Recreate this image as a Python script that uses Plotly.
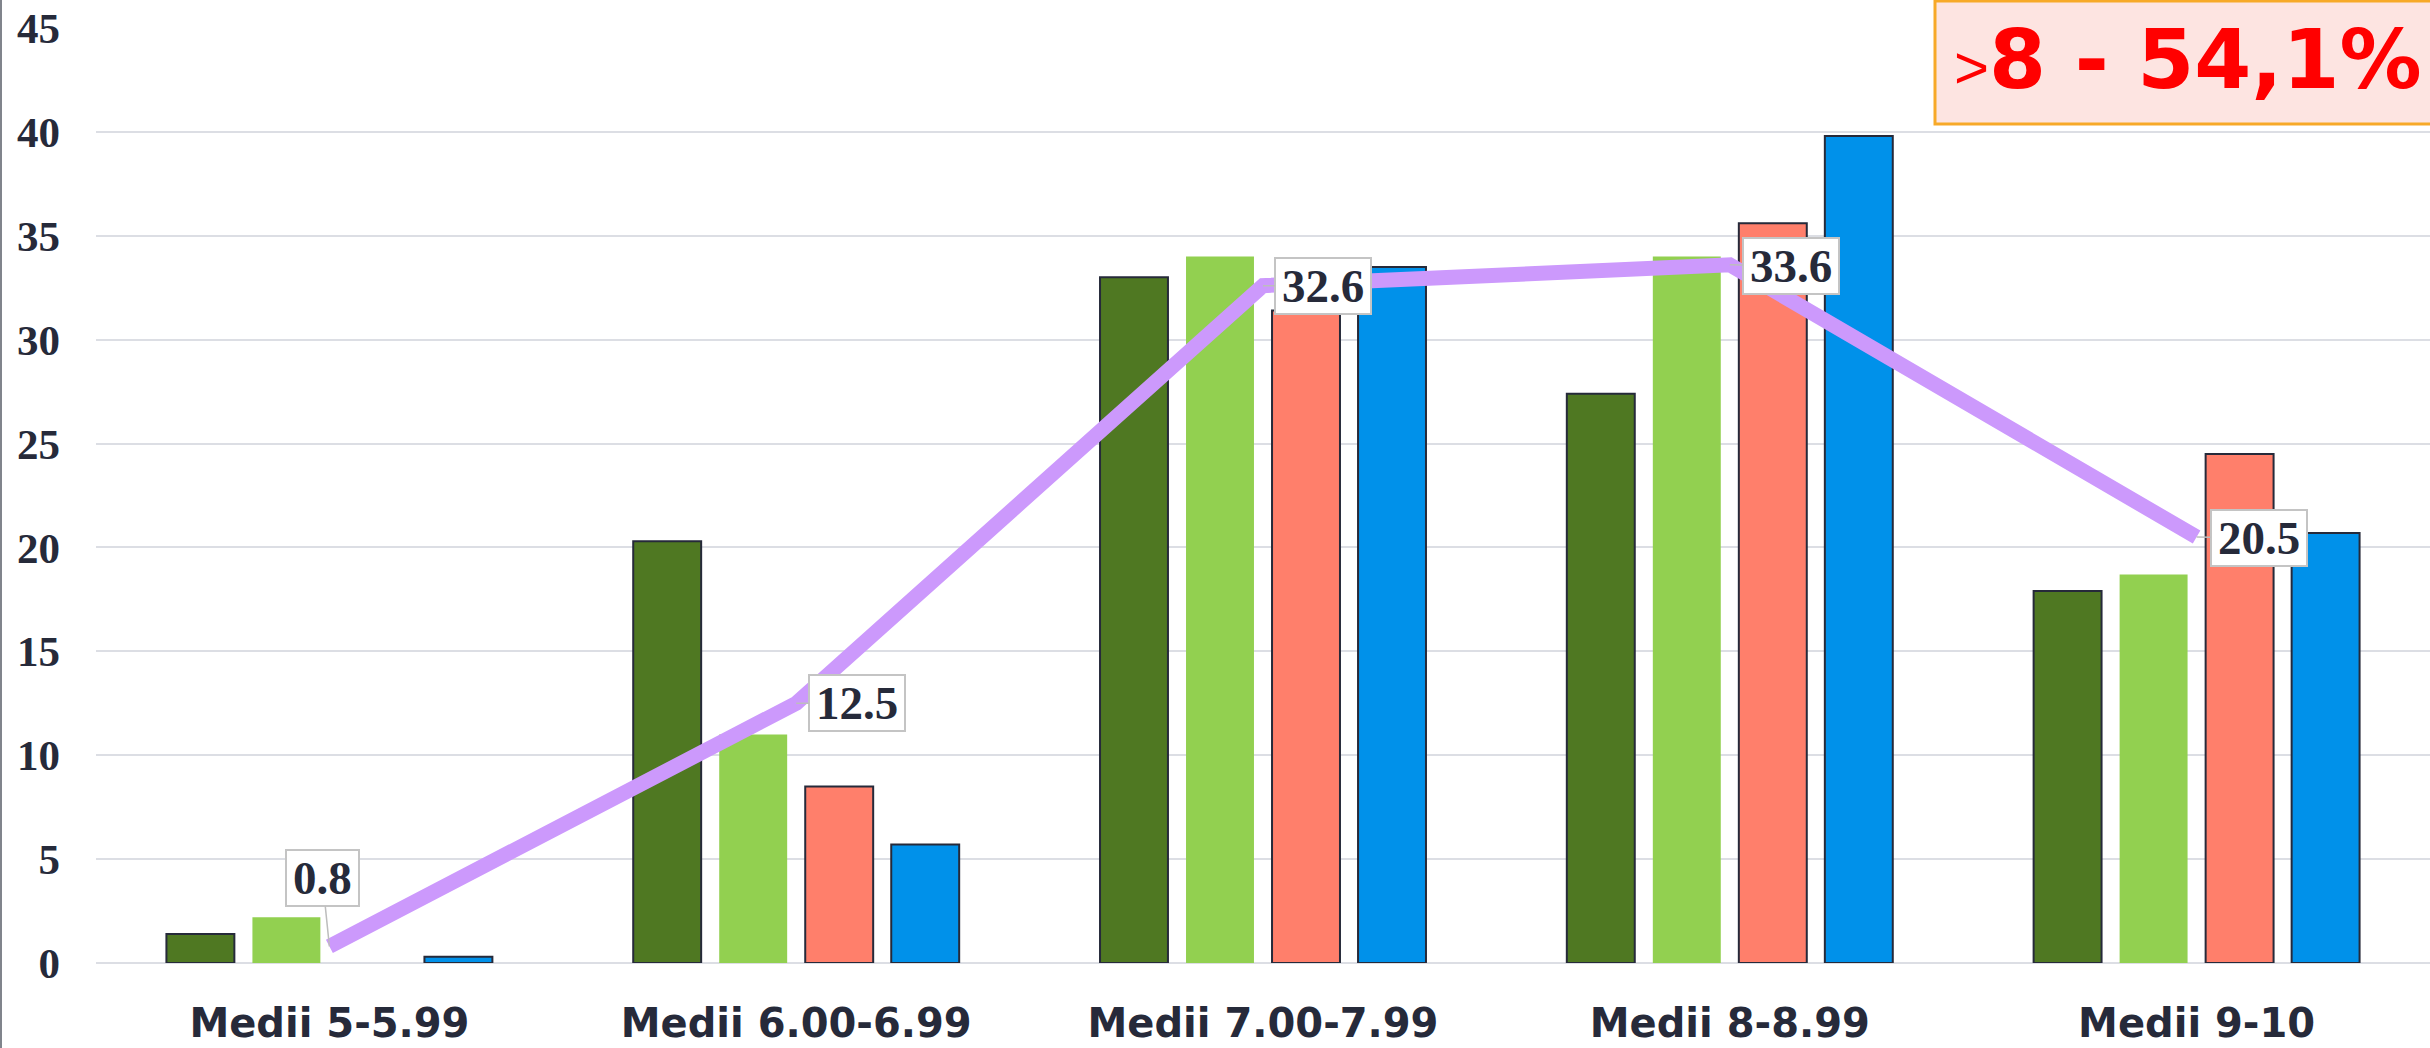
"""
Medii - distribuție pe intervale (bare grupate + linie)
"""
import plotly.graph_objects as go

# ════════════════════════════════════════════════════════
# date
# ════════════════════════════════════════════════════════
categories = ["Medii 5-5.99", "Medii 6.00-6.99", "Medii 7.00-7.99", "Medii 8-8.99", "Medii 9-10"]

series_names = ["Seria 1", "Seria 2", "Seria 3", "Seria 4"]
series_values = [
    [1.4, 20.3, 33.0, 27.4, 17.9],
    [2.2, 11.0, 34.0, 34.0, 18.7],
    [None, 8.5, 31.4, 35.6, 24.5],
    [0.3, 5.7, 33.5, 39.8, 20.7],
]
series_colors = ["#4f7822", "#92d050", "#ff7f6b", "#0091ea"]
series_outline = [2, 0, 2, 2]

line_name = "Total"
line_values = [0.8, 12.5, 32.6, 33.6, 20.5]
# poziția etichetei față de punct (pixeli)
label_offsets = [(-7, -68), (61, 0), (60, 0), (61, 1), (62, 1)]

y_ticks = [0, 5, 10, 15, 20, 25, 30, 35, 40, 45]

highlight_text = "<span style='font-family:Liberation Sans;font-weight:400;font-size:60px'>&gt;</span>8 - 54,1%"

W, H = 2430, 1048
M_L, M_R, M_T, M_B = 96, 0, 28, 85
DARK = "#262a3a"
HEAVY = "DejaVu Sans"

fig = go.Figure()

# ════════════════════════════════════════════════════════
# bare
# ════════════════════════════════════════════════════════
for name, vals, col, lw in zip(series_names, series_values, series_colors, series_outline):
    fig.add_trace(
        go.Bar(
            x=categories,
            y=vals,
            name=name,
            marker=dict(color=col, line=dict(color=DARK if lw else col, width=lw)),
        )
    )

# ════════════════════════════════════════════════════════
# linia + etichete
# ════════════════════════════════════════════════════════
fig.add_trace(
    go.Scatter(
        x=categories,
        y=line_values,
        name=line_name,
        mode="lines",
        line=dict(color="#cc99fc", width=15),
    )
)

for cat, val, (ax, ay) in zip(categories, line_values, label_offsets):
    fig.add_annotation(
        x=cat,
        y=val,
        xref="x",
        yref="y",
        text=f"{val:.1f}",
        showarrow=True,
        arrowhead=0,
        arrowwidth=1.5,
        arrowcolor="#bdbdbd",
        ax=ax,
        ay=ay,
        font=dict(family="Liberation Serif", size=47, color=DARK, weight="bold"),
        height=42,
        bgcolor="white",
        bordercolor="#c4c4c4",
        borderwidth=2,
        borderpad=6,
    )

# ════════════════════════════════════════════════════════
# caseta din dreapta sus
# ════════════════════════════════════════════════════════
plot_w = W - M_L - M_R
plot_h = H - M_T - M_B


def px_x(px):
    return (px - M_L) / plot_w


def px_y(py):
    return 1 - (py - M_T) / plot_h


fig.add_shape(
    type="rect",
    xref="paper",
    yref="paper",
    x0=px_x(1935),
    x1=px_x(2460),
    y0=px_y(124),
    y1=px_y(1),
    fillcolor="#fde4e1",
    line=dict(color="#f7a928", width=3),
    layer="above",
)
fig.add_annotation(
    xref="paper",
    yref="paper",
    x=px_x(1952),
    y=px_y(60),
    xanchor="left",
    yanchor="middle",
    text=highlight_text,
    showarrow=False,
    font=dict(family=HEAVY, size=82, color="#ff0000", weight="bold"),
)

# linia gri din marginea stângă
fig.add_shape(
    type="line",
    xref="paper",
    yref="paper",
    x0=px_x(1),
    x1=px_x(1),
    y0=px_y(H),
    y1=px_y(0),
    line=dict(color="#80848c", width=2),
)

# ════════════════════════════════════════════════════════
# layout
# ════════════════════════════════════════════════════════
fig.update_layout(
    width=W,
    height=H,
    margin=dict(l=M_L, r=M_R, t=M_T, b=M_B, autoexpand=False),
    paper_bgcolor="white",
    plot_bgcolor="white",
    barmode="group",
    bargap=0.263,
    bargroupgap=0.21,
    showlegend=False,
    hovermode=False,
)
fig.update_xaxes(
    automargin=False,
    showgrid=False,
    showline=False,
    ticks="",
    tickfont=dict(family=HEAVY, size=40, color=DARK, weight="bold"),
    ticklabelstandoff=33,
)
fig.update_yaxes(
    automargin=False,
    range=[0, 45],
    tickvals=y_ticks,
    showgrid=True,
    gridcolor="#dcdee4",
    gridwidth=2,
    zeroline=True,
    zerolinecolor="#dcdee4",
    zerolinewidth=2,
    showline=False,
    ticks="",
    tickfont=dict(family="Liberation Serif", size=43, color=DARK, weight="bold"),
    ticklabelstandoff=35,
)

# pagina fără marginea implicită a lui <body>, fără bara de unelte
fig.write_html(
    "out.html",
    config={"displayModeBar": False},
    post_script="document.body.style.margin='0';",
)
